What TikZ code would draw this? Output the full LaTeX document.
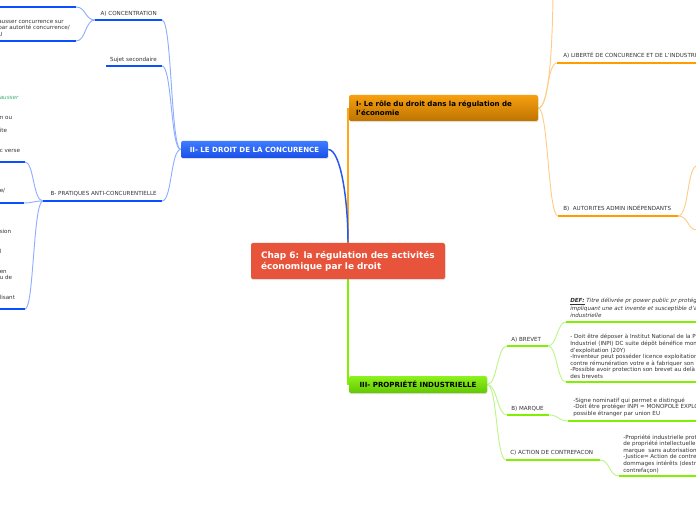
\documentclass[tikz,border=0pt]{standalone}
\usepackage{fontspec}
\setmainfont{DejaVu Sans}
\usetikzlibrary{shadows}
\definecolor{txt}{HTML}{333333}
\definecolor{rootred}{HTML}{E8543B}
\definecolor{bdark}{HTML}{0A50FF}
\definecolor{blight}{HTML}{8FAEFF}
\definecolor{bconn}{HTML}{2458F0}
\definecolor{btop}{HTML}{3F7BFF}
\definecolor{bbot}{HTML}{1A4FE8}
\definecolor{odark}{HTML}{FF9C00}
\definecolor{olight}{HTML}{FFCC88}
\definecolor{otop}{HTML}{F7A010}
\definecolor{obot}{HTML}{BE7400}
\definecolor{gdark}{HTML}{80F000}
\definecolor{glight}{HTML}{BDF58A}
\definecolor{gtop}{HTML}{8EF21E}
\definecolor{gbot}{HTML}{62C800}
\definecolor{linkgreen}{HTML}{3BAF7A}
\pgfdeclarelayer{bg}
\pgfsetlayers{bg,main}
\begin{document}
\begin{tikzpicture}[x=0.75pt,y=-0.75pt,
  small/.style={font=\fontsize{4.2}{4.95}\selectfont, text=txt, inner sep=0pt, align=left},
  rootbox/.style={rectangle, rounded corners=1.5pt, fill=rootred, text=white,
    font={\bfseries\fontsize{6.7}{8.25}\selectfont}, text width=130.5pt, align=left,
    inner xsep=7.5pt, inner ysep=0pt, minimum height=27pt,
    drop shadow={opacity=0.25, shadow xshift=0.4pt, shadow yshift=-0.8pt}},
  topic/.style={rectangle, rounded corners=1.5pt, inner ysep=0pt,
    font={\bfseries\fontsize{5.3}{7}\selectfont},
    drop shadow={opacity=0.25, shadow xshift=0.4pt, shadow yshift=-0.8pt}},
  uline/.style={line width=2.2pt},
  thin/.style={line width=0.7pt},
]
\useasboundingbox (0,0) rectangle (696,520);
\clip (0,0) rectangle (696,520);

% ---------- main nodes ----------
\node[rootbox] (root) at (348,261) {Chap 6: la régulation des activités\\économique par le droit};
\node[topic, top color=btop, bottom color=bbot, text=white, minimum width=110.25pt,
  minimum height=12.75pt, inner xsep=0pt] (II) at (254.5,149.5) {II- LE DROIT DE LA CONCURENCE};
\node[topic, top color=otop, bottom color=obot, text=black, text width=131.25pt, align=left,
  inner xsep=5.25pt, minimum height=19.5pt] (I) at (443.5,108)
  {I- Le rôle du droit dans la régulation de\\l'économie};
\node[topic, top color=gtop, bottom color=gbot, text=black, minimum width=103.5pt,
  minimum height=12.75pt, inner xsep=0pt] (III) at (418,384.5) {III- PROPRIÉTÉ INDUSTRIELLE};

% ---------- labels ----------
\node[small, anchor=base east] (tConc) at (157,16) {A) CONCENTRATION};
\node[small, anchor=base east] (tSujet) at (157,62) {Sujet secondaire};
\node[small, anchor=base east] (tPrat) at (157,196) {B- PRATIQUES ANTI-CONCURENTIELLE};
\node[small, anchor=base west] (tLib) at (563,58) {A) LIBERTÉ DE CONCURENCE ET DE L'INDUSTRI};
\node[small, anchor=base west] (tAut) at (563,211) {B)~ AUTORITES ADMIN INDÉPENDANTS};
\node[small, anchor=base west] (tBrev) at (511,341) {A) BREVET};
\node[small, anchor=base west] (tMarq) at (511,410) {B) MARQUE};
\node[small, anchor=base west] (tAct) at (510,454) {C) ACTION DE CONTREFACON};

% ---------- text blocks (base = last line) ----------
\node[small, anchor=base west] (bConc) at (-2,36.5)
  {ausser concurrence sur\\par autorité concurrence/\\U};
\node[small, anchor=base west] (bPrat1) at (-0.5,152.8)
  {\textcolor{linkgreen}{\itshape ausser}\\\mbox{}\\\mbox{}\\n ou\\\mbox{}\\ite\\\mbox{}\\\mbox{}\\c verse};
\node[small, anchor=base west] (bPrat2) at (-0.5,193) {e/};
\node[small, anchor=base west] (bPrat3) at (-0.5,299.5)
  {sion\\\mbox{}\\\mbox{}\\l\\\mbox{}\\\mbox{}\\en\\u de\\\mbox{}\\\mbox{}\\lisant};
\node[small, anchor=base west] (bDef) at (570,317)
  {\itshape\underline{\bfseries DEF:} Titre délivrée pr power public pr protége\\
   \itshape impliquant une act invente et susceptible d'ap\\\itshape industrielle};
\node[small, anchor=base west] (bDoit) at (570,378.5)
  {- Doit être déposer à Institut National de la P\\Industriel (INPI) DC suite dépôt bénéfice mon\\
   d'exploitation (20Y)\\-Inventeur peut posséder licence exploitation\\
   contre rémunération votre e à fabriquer son i\\-Possible avoir protection son brevet au delà\\des brevets};
\node[small, anchor=base west] (bMarq) at (573,415.5)
  {-Signe nominatif qui permet e distingué\\-Doit être protéger INPI = MONOPOLE EXPLO\\possible étranger par union EU};
\node[small, anchor=base west] (bAct) at (623,472)
  {-Propriété industrielle prot\\de propriété intellectuelle\\marque~ sans autorisation\\
   -Justice= Action de contre\\dommages intérêts (destr\\contrefaçon)};

% ---------- underline end points ----------
\coordinate (c1L) at (0,7);    \coordinate (c1R) at (76,7);
\coordinate (c2L) at (0,41);   \coordinate (c2R) at (76,41);
\coordinate (uConcL) at (95,20);  \coordinate (uConcR) at (162,20);
\coordinate (uSujL) at (106,66);  \coordinate (uSujR) at (162,66);
\coordinate (uPratL) at (43,201); \coordinate (uPratR) at (162,201);
\coordinate (p1L) at (0,162);  \coordinate (p1R) at (25,162);
\coordinate (p2L) at (0,203);  \coordinate (p2R) at (24,203);
\coordinate (p3L) at (0,309);  \coordinate (p3R) at (25,309);
\coordinate (uLibL) at (557,63);  \coordinate (uLibR) at (696,63);
\coordinate (uAutL) at (558,216); \coordinate (uAutR) at (678,216);
\coordinate (a1) at (697,166);    \coordinate (a2) at (697,230);
\coordinate (topI) at (553,-2);
\coordinate (uBrevL) at (507,346); \coordinate (uBrevR) at (548,346);
\coordinate (uMarqL) at (507,415); \coordinate (uMarqR) at (549,415);
\coordinate (uActL) at (506,460);  \coordinate (uActR) at (600,460);
\coordinate (uDefL) at (566,322);  \coordinate (uDefR) at (696,322);
\coordinate (uDoitL) at (566,382); \coordinate (uDoitR) at (696,382);
\coordinate (uMq2L) at (568,421);  \coordinate (uMq2R) at (696,421);
\coordinate (uAc2L) at (619,476);  \coordinate (uAc2R) at (696,476);

\begin{pgfonlayer}{bg}
% root connectors
\draw[odark!90, line width=1.1pt] (root.north) -- (root.north |- I.center);
\draw[bconn, line width=1.1pt] (II.east) .. controls +(12,0) and +(0,-45) .. (root.north);
\draw[gdark, line width=1.4pt] (root.south) -- (root.south |- III.center);

% blue branch
\draw[blight, thin] (II.west) .. controls +(-10,0) and +(10,0) .. (uConcR);
\draw[blight, thin] (II.west) .. controls +(-10,0) and +(10,0) .. (uSujR);
\draw[blight, thin] (II.west) .. controls +(-10,0) and +(10,0) .. (uPratR);
\draw[blight, thin] (uConcL) .. controls +(-10,0) and +(10,0) .. (c1R);
\draw[blight, thin] (uConcL) .. controls +(-10,0) and +(10,0) .. (c2R);
\draw[blight, thin] (uPratL) .. controls +(-10,0) and +(9,0) .. (p1R);
\draw[blight, thin] (uPratL) .. controls +(-10,0) and +(9,0) .. (p2R);
\draw[blight, thin] (uPratL) .. controls +(-10,0) and +(9,0) .. (p3R);
\foreach \a/\b in {c1L/c1R, c2L/c2R, uConcL/uConcR, uSujL/uSujR, uPratL/uPratR, p1L/p1R, p2L/p2R, p3L/p3R}
  \draw[bdark, uline] (\a) -- (\b);

% orange branch
\draw[olight, thin] (I.east) .. controls +(10,0) and +(-1,60) .. (topI);
\draw[olight, thin] (I.east) .. controls +(10,0) and +(-10,0) .. (uLibL);
\draw[olight, thin] (I.east) .. controls +(10,0) and +(-10,0) .. (uAutL);
\draw[olight, thin] (uAutR) .. controls +(11,0) and +(-10,0) .. (a1);
\draw[olight, thin] (uAutR) .. controls +(11,0) and +(-10,0) .. (a2);
\foreach \a/\b in {uLibL/uLibR, uAutL/uAutR}
  \draw[odark, uline] (\a) -- (\b);

% green branch
\draw[glight, thin] (III.east) .. controls +(10,0) and +(-10,0) .. (uBrevL);
\draw[glight, thin] (III.east) .. controls +(10,0) and +(-10,0) .. (uMarqL);
\draw[glight, thin] (III.east) .. controls +(10,0) and +(-10,0) .. (uActL);
\draw[glight, thin] (uBrevR) .. controls +(9,0) and +(-9,0) .. (uDefL);
\draw[glight, thin] (uBrevR) .. controls +(9,0) and +(-9,0) .. (uDoitL);
\draw[glight, thin] (uMarqR) .. controls +(10,0) and +(-10,0) .. (uMq2L);
\draw[glight, thin] (uActR) .. controls +(10,0) and +(-10,0) .. (uAc2L);
\foreach \a/\b in {uBrevL/uBrevR, uMarqL/uMarqR, uActL/uActR, uDefL/uDefR, uDoitL/uDoitR, uMq2L/uMq2R, uAc2L/uAc2R}
  \draw[gdark, uline] (\a) -- (\b);
\end{pgfonlayer}
\end{tikzpicture}
\end{document}
